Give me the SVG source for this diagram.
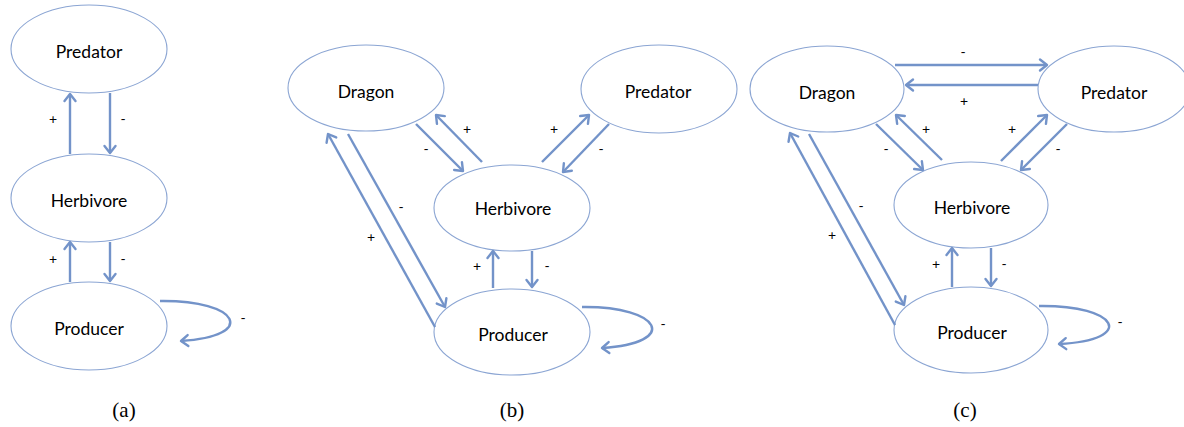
<svg xmlns="http://www.w3.org/2000/svg" width="1184" height="427" viewBox="0 0 1184 427">
<defs>
<style>
.node ellipse{fill:#fff;stroke:#8ba5d3;stroke-width:1.1}
.node text{font-family:Lato,"Open Sans","Liberation Sans",sans-serif;font-size:17.5px;fill:#000;text-anchor:middle;dominant-baseline:central}
.edges path,.edges line{fill:none;stroke:#7393c9;stroke-width:2.4;marker-end:url(#ah)}
.lbl{font-family:Lato,"Liberation Sans",sans-serif;font-size:14px;fill:#000;text-anchor:middle;dominant-baseline:central}
.cap{font-family:"Liberation Serif",serif;font-size:21px;fill:#000;text-anchor:middle}
</style>
<marker id="ah" markerUnits="userSpaceOnUse" markerWidth="20" markerHeight="20" viewBox="-10 -10 20 20" refX="0" refY="0" orient="auto">
<path d="M-7,-5.5 L0,0 L-7,5.5" fill="none" stroke="#7393c9" stroke-width="2.4" stroke-linecap="round" stroke-linejoin="round"/>
</marker>
</defs>
<rect width="1184" height="427" fill="#fff"/>

<!-- Panel (a) -->
<g id="a-predator" class="node"><ellipse cx="89" cy="49" rx="78" ry="44"/><text x="89" y="51">Predator</text></g>
<g id="a-herbivore" class="node"><ellipse cx="89" cy="198" rx="78" ry="44"/><text x="89" y="200">Herbivore</text></g>
<g id="a-producer" class="node"><ellipse cx="89" cy="326" rx="78" ry="44"/><text x="89" y="328">Producer</text></g>

<!-- Panel (b) -->
<g id="b-dragon" class="node"><ellipse cx="366" cy="88" rx="78" ry="43"/><text x="366" y="91">Dragon</text></g>
<g id="b-predator" class="node"><ellipse cx="659" cy="89" rx="78" ry="44"/><text x="658" y="91">Predator</text></g>
<g id="b-herbivore" class="node"><ellipse cx="512" cy="208" rx="78" ry="43"/><text x="513" y="208">Herbivore</text></g>
<g id="b-producer" class="node"><ellipse cx="512" cy="332" rx="78" ry="43"/><text x="513" y="334">Producer</text></g>

<!-- Panel (c) -->
<g id="c-dragon" class="node"><ellipse cx="827" cy="89" rx="77" ry="43"/><text x="827" y="92">Dragon</text></g>
<g id="c-predator" class="node"><ellipse cx="1114" cy="89" rx="76" ry="43"/><text x="1114" y="92">Predator</text></g>
<g id="c-herbivore" class="node"><ellipse cx="971" cy="205" rx="77" ry="43"/><text x="972" y="207">Herbivore</text></g>
<g id="c-producer" class="node"><ellipse cx="971" cy="330" rx="77" ry="43"/><text x="972" y="332">Producer</text></g>

<g id="connectors" class="edges">
<!-- (a) -->
<line x1="70" y1="154" x2="70" y2="94"/>
<line x1="110" y1="93" x2="110" y2="153"/>
<line x1="70" y1="282" x2="70" y2="242"/>
<line x1="110" y1="242" x2="110" y2="281"/>
<path d="M160,301 C240,300 258,336 181,341"/>
<!-- (b) -->
<line x1="416" y1="124" x2="463" y2="171"/>
<line x1="482" y1="162" x2="436" y2="115"/>
<line x1="542" y1="162" x2="589" y2="115"/>
<line x1="609" y1="124" x2="563" y2="172"/>
<line x1="348" y1="134" x2="445" y2="307"/>
<line x1="435" y1="327" x2="328" y2="134"/>
<line x1="493" y1="288" x2="493" y2="251"/>
<line x1="532" y1="251" x2="532" y2="287"/>
<path d="M582,307 C662,306 680,343 602,348"/>
<!-- (c) -->
<line x1="895" y1="65" x2="1047" y2="65"/>
<line x1="1038" y1="85" x2="906" y2="85"/>
<line x1="876" y1="124" x2="923" y2="170"/>
<line x1="942" y1="160" x2="896" y2="115"/>
<line x1="1001" y1="161" x2="1047" y2="115"/>
<line x1="1067" y1="124" x2="1021" y2="170"/>
<line x1="809" y1="134" x2="904" y2="305"/>
<line x1="895" y1="325" x2="790" y2="133"/>
<line x1="952" y1="287" x2="952" y2="248"/>
<line x1="991" y1="248" x2="991" y2="286"/>
<path d="M1039,306 C1119,305 1137,340 1059,344"/>
</g>

<g id="labels">
<text class="lbl" x="53" y="118">+</text><text class="lbl" x="123" y="118">-</text>
<text class="lbl" x="53" y="258">+</text><text class="lbl" x="123" y="258">-</text>
<text class="lbl" x="243" y="317">-</text>

<text class="lbl" x="426" y="148">-</text><text class="lbl" x="467" y="128">+</text>
<text class="lbl" x="554" y="128">+</text><text class="lbl" x="601" y="148">-</text>
<text class="lbl" x="401" y="206">-</text><text class="lbl" x="371" y="236">+</text>
<text class="lbl" x="477" y="265">+</text><text class="lbl" x="547" y="265">-</text>
<text class="lbl" x="663" y="323">-</text>

<text class="lbl" x="963" y="51">-</text><text class="lbl" x="964" y="100">+</text>
<text class="lbl" x="886" y="148">-</text><text class="lbl" x="926" y="128">+</text>
<text class="lbl" x="1012" y="128">+</text><text class="lbl" x="1058" y="148">-</text>
<text class="lbl" x="861" y="205">-</text><text class="lbl" x="832" y="234">+</text>
<text class="lbl" x="936" y="263">+</text><text class="lbl" x="1004" y="263">-</text>
<text class="lbl" x="1120" y="321">-</text>
</g>

<g id="captions">
<text class="cap" x="124" y="417">(a)</text>
<text class="cap" x="512" y="417">(b)</text>
<text class="cap" x="965" y="417">(c)</text>
</g>
</svg>
